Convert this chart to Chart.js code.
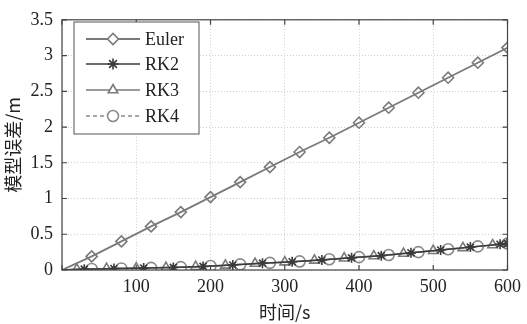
<!DOCTYPE html>
<html lang="zh">
<head>
    <meta charset="UTF-8">
    <title>模型误差</title>
    <script src="https://cdn.jsdelivr.net/npm/chart.js"></script>
    <style>
        html, body { margin: 0; padding: 0; background: #fff; }
        #wrap { width: 527px; height: 324px; }
    </style>
</head>
<body>
    <div id="wrap"><canvas id="graphique" width="527" height="324"></canvas></div>

    <script>
        // données
        const eulerT = [0, 40, 80, 120, 160, 200, 240, 280, 320, 360, 400, 440, 480, 520, 560, 600];
        const eulerY = [0, 0.19, 0.40, 0.61, 0.81, 1.02, 1.23, 1.44, 1.65, 1.85, 2.06, 2.27, 2.48, 2.69, 2.90, 3.11];

        const rk2T = [0, 30, 70, 110, 150, 190, 230, 270, 310, 350, 390, 430, 470, 510, 550, 590, 600];
        const rk2Y = [0, 0.012, 0.02, 0.027, 0.036, 0.05, 0.07, 0.095, 0.115, 0.14, 0.17, 0.20, 0.24, 0.28, 0.32, 0.36, 0.37];

        const rk3T = [0, 20, 60, 100, 140, 180, 220, 260, 300, 340, 380, 420, 460, 500, 540, 580, 600];
        const rk3Y = [0, 0.01, 0.018, 0.025, 0.034, 0.046, 0.065, 0.09, 0.11, 0.135, 0.165, 0.195, 0.23, 0.27, 0.31, 0.35, 0.37];

        const rk4T = [0, 40, 80, 120, 160, 200, 240, 280, 320, 360, 400, 440, 480, 520, 560, 600];
        const rk4Y = [0, 0.015, 0.022, 0.03, 0.04, 0.055, 0.078, 0.10, 0.12, 0.15, 0.18, 0.21, 0.25, 0.29, 0.33, 0.37];

        const xTicks = [0, 100, 200, 300, 400, 500, 600];
        const yTicks = [0, 0.5, 1, 1.5, 2, 2.5, 3, 3.5];

        const serif = '"Liberation Serif", "DejaVu Serif", serif';
        const cjk = '"Noto Sans CJK SC", "Liberation Serif", serif';

        function pts(ts, ys) {
            return ts.map((t, i) => ({ x: t, y: ys[i] }));
        }
        // pas de marqueur à l'origine
        function radius(r) {
            return ctx => (ctx.raw && ctx.raw.x === 0 ? 0 : r);
        }

        const series = [
            { label: 'Euler', data: pts(eulerT, eulerY), borderColor: '#7a7a7a', pointStyle: 'rectRot', pointRadius: radius(5.5), borderWidth: 1.8, borderDash: [] },
            { label: 'RK2', data: pts(rk2T, rk2Y), borderColor: '#3a3a3a', pointStyle: 'star', pointRadius: radius(5), borderWidth: 1.5, borderDash: [] },
            { label: 'RK3', data: pts(rk3T, rk3Y), borderColor: '#7a7a7a', pointStyle: 'triangle', pointRadius: radius(5.5), borderWidth: 1.5, borderDash: [] },
            { label: 'RK4', data: pts(rk4T, rk4Y), borderColor: '#8a8a8a', pointStyle: 'circle', pointRadius: radius(5.5), borderWidth: 1.5, borderDash: [4, 3] }
        ];

        const datasets = series.map(s => ({
            label: s.label,
            data: s.data,
            borderColor: s.borderColor,
            borderWidth: s.borderWidth,
            borderDash: s.borderDash,
            pointStyle: s.pointStyle,
            pointRadius: s.pointRadius,
            pointBorderColor: s.borderColor,
            pointBackgroundColor: 'rgba(255,255,255,0)',
            pointBorderWidth: 1.6,
            tension: 0,
            fill: false
        }));

        // cadre, graduations vers l'intérieur et légende dans le graphe
        const boxPlugin = {
            id: 'boxPlugin',
            afterDraw(chart) {
                const c = chart.ctx;
                const a = chart.chartArea;
                const xs = chart.scales.x, ys = chart.scales.y;
                c.save();
                c.strokeStyle = '#444';
                c.lineWidth = 1.2;
                c.setLineDash([]);
                c.strokeRect(a.left, a.top, a.right - a.left, a.bottom - a.top);
                c.beginPath();
                xTicks.forEach(t => {
                    const px = xs.getPixelForValue(t);
                    c.moveTo(px, a.bottom); c.lineTo(px, a.bottom - 5);
                    c.moveTo(px, a.top); c.lineTo(px, a.top + 5);
                });
                yTicks.forEach(t => {
                    const py = ys.getPixelForValue(t);
                    c.moveTo(a.left, py); c.lineTo(a.left + 5, py);
                    c.moveTo(a.right, py); c.lineTo(a.right - 5, py);
                });
                c.stroke();

                // légende
                const lx = 74, ly = 22, lw = 125, lh = 112;
                c.fillStyle = '#fff';
                c.fillRect(lx, ly, lw, lh);
                c.strokeStyle = '#555';
                c.lineWidth = 1;
                c.strokeRect(lx, ly, lw, lh);
                const rows = [39, 64, 90, 116];
                datasets.forEach((d, i) => {
                    const y = rows[i];
                    c.strokeStyle = d.borderColor;
                    c.lineWidth = d.borderWidth;
                    c.setLineDash(d.borderDash);
                    c.beginPath();
                    c.moveTo(86, y); c.lineTo(140, y);
                    c.stroke();
                    c.setLineDash([]);
                    c.fillStyle = '#fff';
                    c.lineWidth = 1.6;
                    Chart.helpers.drawPoint(c, { pointStyle: d.pointStyle, radius: 5.5, borderWidth: 1.6, rotation: 0 }, 113, y);
                    c.fillStyle = '#222';
                    c.font = '18px ' + serif;
                    c.textBaseline = 'middle';
                    c.textAlign = 'left';
                    c.fillText(d.label, 145, y + 1);
                });
                c.restore();
            }
        };

        const chartCtx = document.getElementById('graphique').getContext('2d');
        const myChart = new Chart(chartCtx, {
            type: 'line',
            data: { datasets: datasets },
            options: {
                responsive: false,
                animation: false,
                layout: { padding: { top: 14, right: 12, left: 0, bottom: 0 } },
                plugins: {
                    legend: { display: false },
                    tooltip: { enabled: false }
                },
                scales: {
                    x: {
                        type: 'linear',
                        min: 0,
                        max: 600,
                        afterFit: s => { s.height = 54; },
                        afterBuildTicks: s => { s.ticks = xTicks.map(v => ({ value: v })); },
                        ticks: {
                            padding: 6,
                            color: '#222',
                            font: { family: serif, size: 18 },
                            callback: v => (v === 0 ? '' : String(v))
                        },
                        grid: { color: '#cfcfcf', drawTicks: false, lineWidth: 1 },
                        border: { display: false, dash: [1, 2] },
                        title: {
                            display: true,
                            text: '时间/s',
                            color: '#222',
                            font: { family: cjk, size: 18 },
                            padding: { top: 0, bottom: 1 }
                        }
                    },
                    y: {
                        min: 0,
                        max: 3.5,
                        afterFit: s => { s.width = 62; },
                        afterBuildTicks: s => { s.ticks = yTicks.map(v => ({ value: v })); },
                        ticks: {
                            padding: 9,
                            color: '#222',
                            font: { family: serif, size: 18 },
                            callback: v => String(v)
                        },
                        grid: { color: '#cfcfcf', drawTicks: false, lineWidth: 1 },
                        border: { display: false, dash: [1, 2] },
                        title: {
                            display: true,
                            text: '模型误差/m',
                            color: '#222',
                            font: { family: cjk, size: 18 },
                            padding: { top: 2, bottom: 0 }
                        }
                    }
                }
            },
            plugins: [boxPlugin]
        });
    </script>
</body>
</html>
